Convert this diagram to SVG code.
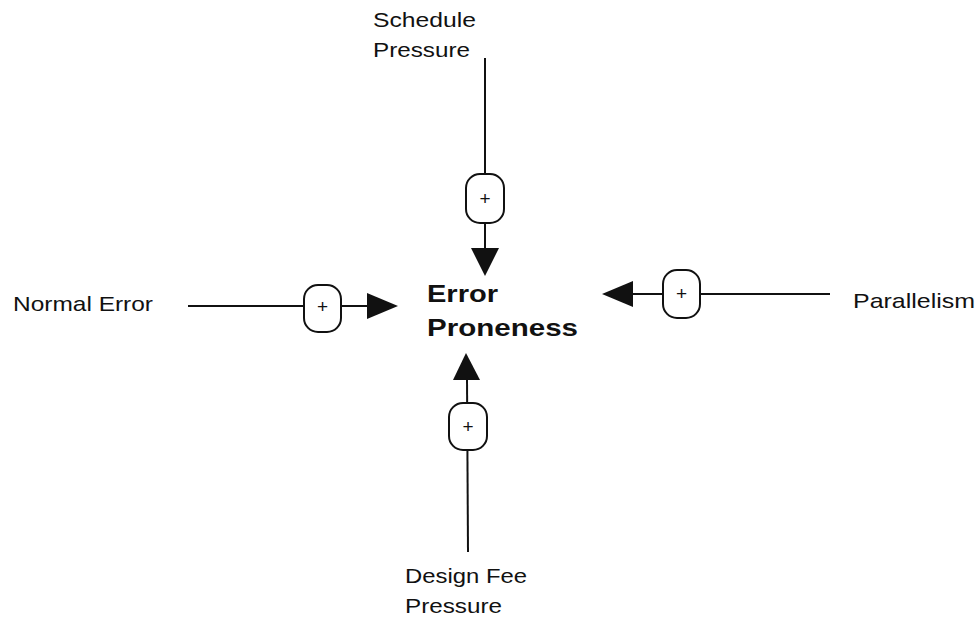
<svg xmlns="http://www.w3.org/2000/svg" width="978" height="621" viewBox="0 0 978 621">
  <style>
    .lbl { font-family: "Liberation Sans", Arial, sans-serif; font-size: 21px; fill: #111; }
    .main { font-family: "Liberation Sans", Arial, sans-serif; font-size: 24px; font-weight: bold; fill: #111; }
    .link { stroke: #111; stroke-width: 2; fill: none; }
    .pill { fill: #fff; stroke: #111; stroke-width: 2; }
    .plus { font-family: "Liberation Sans", Arial, sans-serif; font-size: 19px; fill: #111; text-anchor: middle; }
    .head { fill: #111; }
  </style>
  <rect width="978" height="621" fill="#fff"/>

  <g id="connectors">
    <!-- Schedule Pressure -> Error Proneness -->
    <g id="link-schedule">
      <line class="link" x1="485" y1="58" x2="485" y2="250"/>
      <polygon class="head" points="471,248 499,248 485,276"/>
      <rect class="pill" x="466" y="174" width="38" height="49" rx="14"/>
      <text class="plus" x="485" y="205">+</text>
    </g>
    <!-- Normal Error -> Error Proneness -->
    <g id="link-normal">
      <line class="link" x1="188" y1="306" x2="369" y2="306"/>
      <polygon class="head" points="367,293 367,319 398,306"/>
      <rect class="pill" x="304" y="285" width="37" height="47" rx="14"/>
      <text class="plus" x="322.500" y="313">+</text>
    </g>
    <!-- Parallelism -> Error Proneness -->
    <g id="link-parallel">
      <line class="link" x1="830" y1="294" x2="631" y2="294"/>
      <polygon class="head" points="633,281 633,307 602,294"/>
      <rect class="pill" x="663" y="270" width="37" height="48" rx="14"/>
      <text class="plus" x="681.500" y="300">+</text>
    </g>
    <!-- Design Fee Pressure -> Error Proneness -->
    <g id="link-designfee">
      <line class="link" x1="468" y1="552" x2="467" y2="378"/>
      <polygon class="head" points="453,380 480,380 466,353"/>
      <rect class="pill" x="449" y="403" width="38" height="47" rx="14"/>
      <text class="plus" x="468" y="433">+</text>
    </g>
  </g>

  <g id="node-error-proneness">
    <text class="main" x="427" y="302" textLength="71" lengthAdjust="spacingAndGlyphs">Error</text>
    <text class="main" x="427" y="336" textLength="151" lengthAdjust="spacingAndGlyphs">Proneness</text>
  </g>
  <g id="node-schedule-pressure">
    <text class="lbl" x="373" y="27" textLength="103" lengthAdjust="spacingAndGlyphs">Schedule</text>
    <text class="lbl" x="373" y="57" textLength="97" lengthAdjust="spacingAndGlyphs">Pressure</text>
  </g>
  <g id="node-normal-error">
    <text class="lbl" x="13" y="311" textLength="140" lengthAdjust="spacingAndGlyphs">Normal Error</text>
  </g>
  <g id="node-parallelism">
    <text class="lbl" x="853" y="308" textLength="122" lengthAdjust="spacingAndGlyphs">Parallelism</text>
  </g>
  <g id="node-design-fee-pressure">
    <text class="lbl" x="405" y="583" textLength="122" lengthAdjust="spacingAndGlyphs">Design Fee</text>
    <text class="lbl" x="405" y="613" textLength="97" lengthAdjust="spacingAndGlyphs">Pressure</text>
  </g>
</svg>
